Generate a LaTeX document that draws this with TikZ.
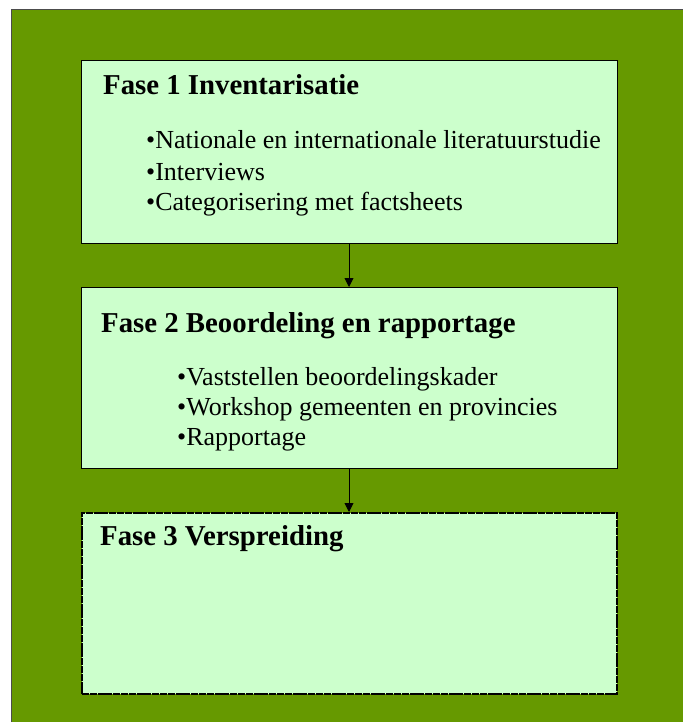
\documentclass[tikz,border=0pt]{standalone}
\usepackage{fontspec}
\setmainfont{Liberation Serif}
\usetikzlibrary{arrows.meta}
\definecolor{outergreen}{RGB}{102,153,0}
\definecolor{boxfill}{RGB}{204,255,204}
\tikzset{
  box/.style={draw=black, line width=1pt, fill=boxfill, anchor=north west, inner sep=0pt, minimum width=536pt},
  dashbox/.style={draw=black, line width=1.8pt, dash pattern=on 7pt off 0.8pt, fill=boxfill, anchor=north west, inner sep=0pt, minimum width=535pt},
  title/.style={anchor=base west, inner sep=0pt, font=\fontsize{28.8}{34}\selectfont\bfseries},
  item/.style={anchor=base west, inner sep=0pt, font=\fontsize{26}{30}\selectfont},
  conn/.style={draw=black, line width=0.9pt, -{Triangle[length=9pt,width=9pt]}}
}
\begin{document}
\begin{tikzpicture}[x=1pt,y=-1pt]
\useasboundingbox (0,0) rectangle (682,722);
\node[draw=black!70, line width=0.8pt, fill=outergreen, anchor=north west, inner sep=0pt, minimum width=672pt, minimum height=714pt] (outer) at (11,9) {};
\node[box, minimum height=183pt] (b1) at (81,60) {};
\node[box, minimum height=181pt] (b2) at (81,287) {};
\node[dashbox, minimum height=181pt] (b3) at (81,512) {};
\node[title] (t1) at (103,95) {Fase 1 Inventarisatie};
\node[item] (i11) at (146,149) {•Nationale en internationale literatuurstudie};
\node[item] (i12) at (146,180) {•Interviews};
\node[item] (i13) at (146,210) {•Categorisering met factsheets};
\node[title] (t2) at (101,332) {Fase 2 Beoordeling en rapportage};
\node[item] (i21) at (177,385) {•Vaststellen beoordelingskader};
\node[item] (i22) at (177,415) {•Workshop gemeenten en provincies};
\node[item] (i23) at (177,445) {•Rapportage};
\node[title] (t3) at (100,545) {Fase 3 Verspreiding};
\coordinate (a1s) at (349,243);
\coordinate (a1e) at (349,287);
\coordinate (a2s) at (349,468);
\coordinate (a2e) at (349,512);
\draw[conn] (b1.south -| a1s) -- (b2.north -| a1e);
\draw[conn] (b2.south -| a2s) -- (b3.north -| a2e);
\end{tikzpicture}
\end{document}
